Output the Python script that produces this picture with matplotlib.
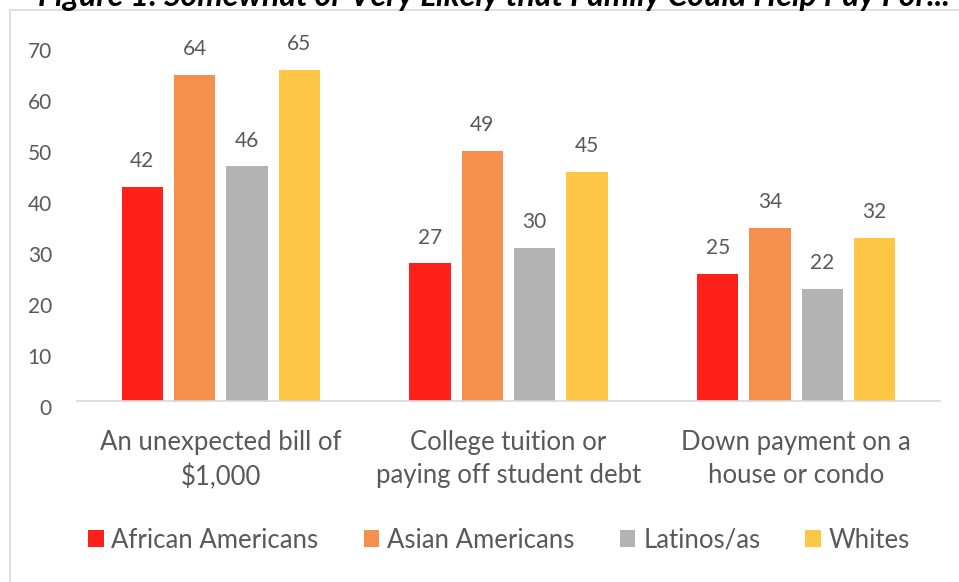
import numpy as np
import matplotlib
matplotlib.use("Agg")
import matplotlib.pyplot as plt
from matplotlib.transforms import ScaledTranslation
from matplotlib.lines import Line2D
from matplotlib.patches import Patch

plt.rcParams['font.family'] = ['Lato', 'DejaVu Sans']

categories = ["An unexpected bill of\n$1,000",
              "College tuition or\npaying off student debt",
              "Down payment on a\nhouse or condo"]
groups = ["African Americans", "Asian Americans", "Latinos/as", "Whites"]
african_americans = [42, 27, 25]
asian_americans = [64, 49, 34]
latinos = [46, 30, 22]
whites = [65, 45, 32]
yticks = [0, 10, 20, 30, 40, 50, 60, 70]
title = "Figure 1: Somewhat or Very Likely that Family Could Help Pay For..."

series = [african_americans, asian_americans, latinos, whites]
colors = ["#FF2119", "#F48F4E", "#B3B3B3", "#FEC645"]
text_color = "#595959"

fig = plt.figure(figsize=(9.59, 5.82), dpi=100)
fig.patch.set_facecolor("white")
W, H = 959, 582
ax = fig.add_axes([77 / W, 1 - 401 / H, (940 - 77) / W, (401 - 44) / H])

x = np.arange(len(categories))
width = 0.144
step = 0.182
for k, (vals, col) in enumerate(zip(series, colors)):
    pos = x + (k - 1.5) * step
    ax.bar(pos, vals, width=width, color=col, label=groups[k], zorder=2)
    for px, v in zip(pos, vals):
        ax.annotate(str(v), (px, v), xytext=(0, 18.5), textcoords="offset points",
                    ha="center", va="center", fontsize=15, color=text_color)

ax.set_xlim(-0.5, 2.5)
ax.set_ylim(0, 70)
ax.set_yticks(yticks)
ax.set_yticklabels([str(t) for t in yticks])
ax.set_xticks(x)
ax.set_xticklabels(categories, fontsize=18.5, color=text_color, linespacing=1.4)
ax.tick_params(axis="y", length=0, pad=18, labelsize=15, labelcolor=text_color)
ax.tick_params(axis="x", length=0, pad=21)
for lbl in ax.get_yticklabels():
    lbl.set_transform(lbl.get_transform() + ScaledTranslation(0, -6 / 100, fig.dpi_scale_trans))

for s in ["top", "right", "left"]:
    ax.spines[s].set_visible(False)
ax.spines["bottom"].set_color("#D9D9D9")
ax.spines["bottom"].set_linewidth(1.2)

# Legend along the bottom
handles = [Patch(facecolor=c, edgecolor="none") for c in colors]
fig.legend(handles, groups, loc="center", bbox_to_anchor=(499 / W, 1 - 540 / H),
           ncol=4, frameon=False, fontsize=18.5, labelcolor=text_color,
           handlelength=0.62, handleheight=0.62, handletextpad=0.3,
           columnspacing=1.75)

# Chart frame
frame_kw = dict(color="#D9D9D9", linewidth=1.2, transform=fig.transFigure)
fig.add_artist(Line2D([10 / W, 10 / W], [0, 1 - 10 / H], **frame_kw))
fig.add_artist(Line2D([10 / W, 1], [1 - 10 / H, 1 - 10 / H], **frame_kw))

# Title sits above the frame, mostly beyond the top edge
fig.text(494 / W, 1 - 6 / H, title, ha="center", va="baseline", fontsize=23,
         fontweight="bold", fontstyle="italic", color="black")

fig.savefig("out.png", dpi=100, facecolor="white")
